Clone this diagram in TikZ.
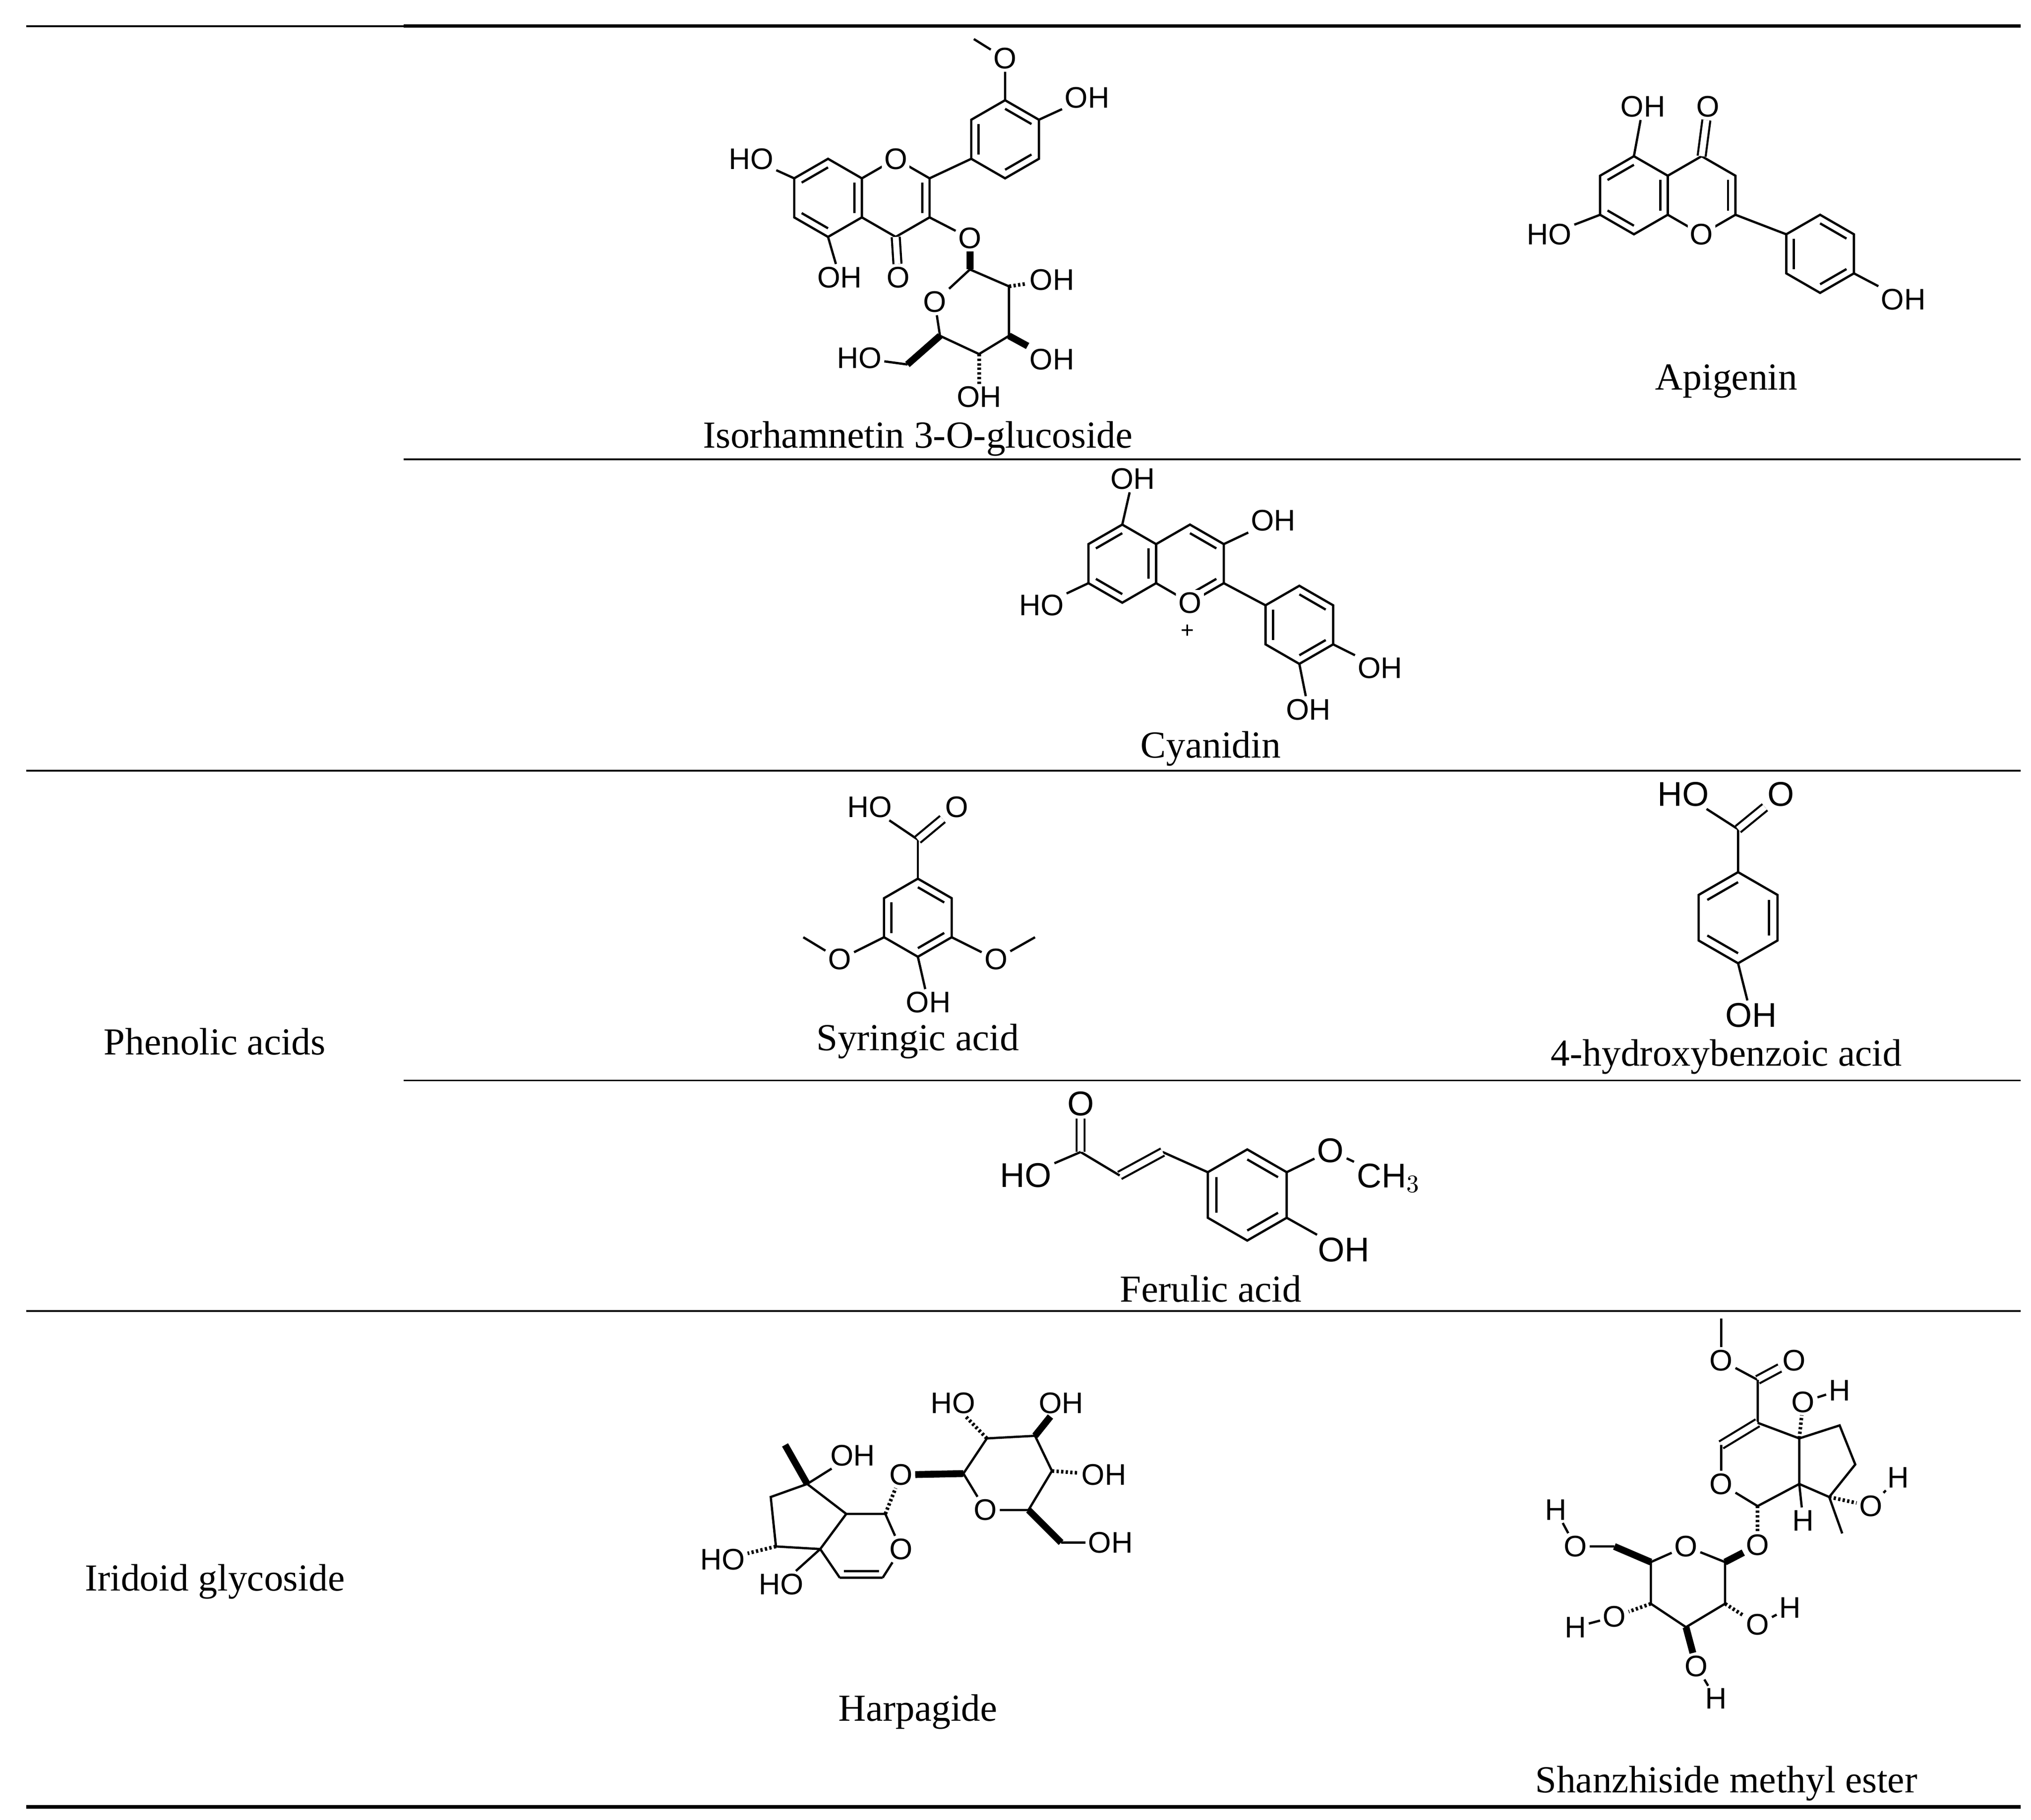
\documentclass[tikz,border=0pt]{standalone}
\usepackage{fontspec}
\setmainfont{Liberation Serif}
\newfontfamily\atomfont{Liberation Sans}
\usetikzlibrary{calc}
\newcommand\hexring[4][30]{%
 \coordinate (#2c) at (#3,#4);
 \foreach \i/\a in {1/-90,2/-30,3/30,4/90,5/150,6/210} {\coordinate (#2\i) at ($(#3,#4)+(\a:#1)$);}
 \draw[bond] (#21)--(#22)--(#23)--(#24)--(#25)--(#26)--cycle;}
\newcommand\inb[3]{\draw[bond] ($(#1)!0.22!(#3)$) -- ($(#2)!0.22!(#3)$);}
\begin{document}
\begin{tikzpicture}[x=0.02cm,y=-0.02cm,
 bond/.style={line width=1pt},
 dbond/.style={double,double distance=2.6pt,line width=0.9pt},
 atom/.style={font=\atomfont\fontsize{13}{13}\selectfont,inner sep=1pt},
 ratom/.style={atom,fill=white},
 cname/.style={font=\fontsize{16.7}{16.7}\selectfont,inner sep=0pt},
 rule/.style={line width=0.8pt}, thick rule/.style={line width=1.6pt}]
\useasboundingbox (0,0) rectangle (1560,1398);
% table rules
\draw[rule] (20,20)--(310,20); \draw[thick rule] (310,20)--(1552,20);
\draw[rule] (310,353)--(1552,353);
\draw[rule] (20,592)--(1552,592);
\draw[rule] (310,830)--(1552,830);
\draw[rule] (20,1007)--(1552,1007);
\draw[thick rule] (20,1388)--(1552,1388);
% category labels
\node[cname] (l1) at (165,800) {Phenolic acids};
\node[cname] (l2) at (165,1215) {Iridoid glycoside};
% names
\node[cname] (n1) at (705,337) {Isorhamnetin 3-O-glucoside};
\node[cname] (n2) at (1326,293) {Apigenin};
\node[cname] (n3) at (930,575) {Cyanidin};
\node[cname] (n4) at (705,800) {Syringic acid};
\node[cname] (n5) at (1326,812) {4-hydroxybenzoic acid};
\node[cname] (n6) at (930,990) {Ferulic acid};
\node[cname] (n7) at (705,1315) {Harpagide};
\node[cname] (n8) at (1326,1370) {Shanzhiside methyl ester};

% ---------- Isorhamnetin 3-O-glucoside ----------
\hexring{IA}{636}{152}\hexring{IC}{688}{152}\hexring{IB}{772}{107}
\inb{IA2}{IA3}{IAc}\inb{IA4}{IA5}{IAc}\inb{IA6}{IA1}{IAc}
\inb{IC2}{IC3}{ICc}
\inb{IB1}{IB2}{IBc}\inb{IB3}{IB4}{IBc}\inb{IB5}{IB6}{IBc}
\node[ratom] (iO1) at (IC1) {O};
\draw[bond] (IC2)--(IB5);
\node[atom] (iOMe) at (772,45) {O}; \coordinate (iMe) at (748,30);
\draw[bond] (IB1)--(iOMe) (iOMe)--(iMe);
\node[atom] (iOH4) at (835,75) {OH}; \draw[bond] (IB2)--(iOH4);
\node[atom] (iHO7) at (577,122) {HO}; \draw[bond] (IA6)--(iHO7);
\node[atom] (iOH5) at (645,213) {OH}; \draw[bond] (IA4)--(iOH5);
\node[atom] (iO4) at (690,213) {O}; \draw[dbond] (IC4)--(iO4);
\node[atom] (iO3) at (745,183) {O}; \draw[bond] (IC3)--(iO3);
\coordinate (g1) at (745,207); \coordinate (g2) at (775,220); \coordinate (g3) at (775,258);
\coordinate (g4) at (752,272); \coordinate (g5) at (722,258);
\node[atom] (gO) at (718,232) {O};
\draw[bond] (gO)--(g1); \draw[line width=3pt] (g1)--(iO3);
\draw[bond] (g1)--(g2)--(g3)--(g4)--(g5)--(gO);
\node[atom] (gOH2) at (808,215) {OH}; \draw[bond,densely dotted,line width=1.6pt] (g2)--(gOH2);
\node[atom] (gOH3) at (808,276) {OH}; \draw[line width=3pt] (g3)--(gOH3);
\node[atom] (gOH4) at (752,305) {OH}; \draw[bond,densely dotted,line width=1.6pt] (g4)--(gOH4);
\coordinate (g6) at (697,280); \draw[line width=3pt] (g5)--(g6);
\node[atom] (gOH6) at (660,275) {HO}; \draw[bond] (g6)--(gOH6);

% ---------- Apigenin ----------
\hexring{AA}{1255}{150}\hexring{AC}{1307}{150}\hexring{AB}{1398}{195}
\inb{AA2}{AA3}{AAc}\inb{AA4}{AA5}{AAc}\inb{AA6}{AA1}{AAc}
\inb{AC2}{AC3}{ACc}
\inb{AB1}{AB2}{ABc}\inb{AB3}{AB4}{ABc}\inb{AB5}{AB6}{ABc}
\node[ratom] (aO1) at (AC4) {O};
\node[atom] (aO4) at (1312,82) {O}; \draw[dbond] (AC1)--(aO4);
\node[atom] (aOH5) at (1262,82) {OH}; \draw[bond] (AA1)--(aOH5);
\node[atom] (aHO7) at (1190,180) {HO}; \draw[bond] (AA5)--(aHO7);
\draw[bond] (AC3)--(AB6);
\node[atom] (aOH4) at (1462,230) {OH}; \draw[bond] (AB3)--(aOH4);

% ---------- Cyanidin ----------
\hexring{CA}{862}{433}\hexring{CC}{914}{433}\hexring{CB}{998}{480}
\inb{CA2}{CA3}{CAc}\inb{CA4}{CA5}{CAc}\inb{CA6}{CA1}{CAc}
\inb{CC1}{CC2}{CCc}\inb{CC3}{CC4}{CCc}
\inb{CB1}{CB2}{CBc}\inb{CB3}{CB4}{CBc}\inb{CB5}{CB6}{CBc}
\node[ratom] (cO1) at (CC4) {O};
\node[atom,font=\atomfont\fontsize{10}{10}\selectfont,inner sep=0pt] (cplus) at (912,485) {+};
\node[atom] (cOH5) at (870,368) {OH}; \draw[bond] (CA1)--(cOH5);
\node[atom] (cHO7) at (800,465) {HO}; \draw[bond] (CA5)--(cHO7);
\node[atom] (cOH3) at (978,400) {OH}; \draw[bond] (CC2)--(cOH3);
\draw[bond] (CC3)--(CB6);
\node[atom] (cOH4) at (1060,513) {OH}; \draw[bond] (CB3)--(cOH4);
\node[atom] (cOH3b) at (1005,545) {OH}; \draw[bond] (CB4)--(cOH3b);

% ---------- Syringic acid ----------
\hexring{S}{705}{705}
\inb{S1}{S2}{Sc}\inb{S3}{S4}{Sc}\inb{S5}{S6}{Sc}
\coordinate (sC) at (705,645); \draw[bond] (S1)--(sC);
\node[atom] (sHO) at (668,620) {HO}; \draw[bond] (sC)--(sHO);
\node[atom] (sO) at (735,620) {O}; \draw[dbond] (sC)--(sO);
\node[atom] (sO3) at (645,737) {O}; \draw[bond] (S5)--(sO3)--(617,720);
\node[atom] (sO5) at (765,737) {O}; \draw[bond] (S3)--(sO5)--(795,720);
\node[atom] (sOH) at (713,770) {OH}; \draw[bond] (S4)--(sOH);

% ---------- 4-hydroxybenzoic acid ----------
\hexring[35]{H}{1335}{705}
\inb{H2}{H3}{Hc}\inb{H4}{H5}{Hc}\inb{H6}{H1}{Hc}
\coordinate (hC) at (1335,637); \draw[bond] (H1)--(hC);
\node[atom,font=\atomfont\fontsize{15}{15}\selectfont] (hHO) at (1293,610) {HO}; \draw[bond] (hC)--(hHO);
\node[atom,font=\atomfont\fontsize{15}{15}\selectfont] (hO) at (1368,610) {O}; \draw[dbond] (hC)--(hO);
\node[atom,font=\atomfont\fontsize{15}{15}\selectfont] (hOH) at (1345,780) {OH}; \draw[bond] (H4)--(hOH);

% ---------- Ferulic acid ----------
\hexring[35]{F}{958}{918}
\inb{F1}{F2}{Fc}\inb{F3}{F4}{Fc}\inb{F5}{F6}{Fc}
\coordinate (fa) at (893,885); \coordinate (fb) at (860,903); \coordinate (fc) at (830,885);
\draw[bond] (F6)--(fa); \draw[dbond] (fa)--(fb); \draw[bond] (fb)--(fc);
\node[atom,font=\atomfont\fontsize{15}{15}\selectfont] (fO) at (830,848) {O}; \draw[dbond] (fc)--(fO);
\node[atom,font=\atomfont\fontsize{15}{15}\selectfont] (fHO) at (788,903) {HO}; \draw[bond] (fc)--(fHO);
\node[atom,font=\atomfont\fontsize{15}{15}\selectfont] (fO3) at (1022,884) {O}; \draw[bond] (F2)--(fO3);
\node[atom,font=\atomfont\fontsize{15}{15}\selectfont,anchor=west] (fMe) at (1040,905) {CH$_3$}; \draw[bond] (fO3)--(fMe);
\node[atom,font=\atomfont\fontsize{15}{15}\selectfont] (fOH) at (1032,960) {OH}; \draw[bond] (F3)--(fOH);

% ---------- Harpagide ----------
\coordinate (h1) at (680,1163); \coordinate (h3) at (678,1212); \coordinate (h4) at (645,1212);
\coordinate (h5) at (630,1190); \coordinate (h9) at (650,1163); \coordinate (h8) at (620,1140);
\coordinate (h7) at (592,1150); \coordinate (h6) at (596,1188); \coordinate (hMe) at (603,1110);
\node[atom] (hpO) at (692,1190) {O};
\draw[bond] (h1)--(hpO)--(h3); \draw[bond] (h3)--(h4); \draw[bond] ($(h3)+(-3,-5)$)--($(h4)+(3,-5)$);
\draw[bond] (h4)--(h5)--(h9)--(h1); \draw[bond] (h9)--(h8)--(h7)--(h6)--(h5);
\draw[line width=3pt] (h8)--(hMe);
\node[atom] (hOH8) at (655,1118) {OH}; \draw[bond] (h8)--(hOH8);
\node[atom] (hHO6) at (555,1198) {HO}; \draw[bond,densely dotted,line width=1.6pt] (h6)--(hHO6);
\node[atom] (hHO5) at (600,1217) {HO}; \draw[bond] (h5)--(hHO5);
\node[atom] (hO1) at (692,1133) {O}; \draw[bond,densely dotted,line width=1.6pt] (h1)--(hO1);
\coordinate (k1) at (740,1132); \coordinate (k2) at (758,1105); \coordinate (k3) at (795,1103);
\coordinate (k4) at (808,1130); \coordinate (k5) at (790,1160); \coordinate (k6) at (815,1185);
\node[atom] (kO) at (757,1160) {O};
\draw[line width=3pt] (hO1)--(k1);
\draw[bond] (k1)--(k2)--(k3)--(k4)--(k5)--(kO)--(k1);
\node[atom] (kOH2) at (732,1078) {HO}; \draw[bond,densely dotted,line width=1.6pt] (k2)--(kOH2);
\node[atom] (kOH3) at (815,1078) {OH}; \draw[line width=3pt] (k3)--(kOH3);
\node[atom] (kOH4) at (848,1133) {OH}; \draw[bond,densely dotted,line width=1.6pt] (k4)--(kOH4);
\draw[line width=3pt] (k5)--(k6);
\node[atom] (kOH6) at (853,1185) {OH}; \draw[bond] (k6)--(kOH6);

% ---------- Shanzhiside methyl ester ----------
\coordinate (zMe) at (1322,1013);
\node[atom] (zOm) at (1322,1045) {O}; \draw[bond] (zMe)--(zOm);
\coordinate (zC) at (1350,1060); \draw[bond] (zOm)--(zC);
\node[atom] (zO) at (1378,1045) {O}; \draw[dbond] (zC)--(zO);
\coordinate (z4) at (1350,1093); \coordinate (z3) at (1322,1110); \coordinate (z1) at (1350,1157);
\coordinate (z9) at (1382,1140); \coordinate (z5) at (1382,1105); \coordinate (z6) at (1413,1095);
\coordinate (z7) at (1425,1125); \coordinate (z8) at (1405,1150); \coordinate (zMe8) at (1415,1178);
\node[atom] (zO2) at (1322,1140) {O};
\draw[bond] (zC)--(z4); \draw[dbond] (z4)--(z3); \draw[bond] (z3)--(zO2)--(z1)--(z9)--(z5)--(z4);
\draw[bond] (z5)--(z6)--(z7)--(z8)--(z9); \draw[bond] (z8)--(zMe8);
\node[atom] (zO5) at (1385,1077) {O}; \node[atom] (zH5) at (1413,1068) {H};
\draw[bond,densely dotted,line width=1.6pt] (z5)--(zO5); \draw[bond] (zO5)--(zH5);
\node[atom] (zO8) at (1437,1157) {O}; \node[atom] (zH8) at (1458,1135) {H};
\draw[bond,densely dotted,line width=1.6pt] (z8)--(zO8); \draw[bond] (zO8)--(zH8);
\node[atom] (zH9) at (1385,1168) {H}; \draw[bond] (z9)--(zH9);
\node[atom] (zO1) at (1350,1187) {O}; \draw[bond,densely dotted,line width=1.6pt] (z1)--(zO1);
\coordinate (y1) at (1325,1200); \coordinate (y5) at (1268,1200); \coordinate (y4) at (1268,1232);
\coordinate (y3) at (1295,1250); \coordinate (y2) at (1325,1232); \coordinate (y6) at (1240,1188);
\node[atom] (yO) at (1295,1188) {O};
\draw[line width=3pt] (zO1)--(y1);
\draw[bond] (y1)--(yO)--(y5)--(y4)--(y3)--(y2)--(y1);
\draw[line width=3pt] (y5)--(y6);
\node[atom] (yO6) at (1210,1188) {O}; \node[atom] (yH6) at (1195,1160) {H};
\draw[bond] (y6)--(yO6)--(yH6);
\node[atom] (yO4) at (1240,1242) {O}; \node[atom] (yH4) at (1210,1250) {H};
\draw[bond,densely dotted,line width=1.6pt] (y4)--(yO4); \draw[bond] (yO4)--(yH4);
\node[atom] (yO3) at (1303,1280) {O}; \node[atom] (yH3) at (1318,1305) {H};
\draw[line width=3pt] (y3)--(yO3); \draw[bond] (yO3)--(yH3);
\node[atom] (yO2) at (1350,1248) {O}; \node[atom] (yH2) at (1375,1235) {H};
\draw[bond,densely dotted,line width=1.6pt] (y2)--(yO2); \draw[bond] (yO2)--(yH2);
\end{tikzpicture}
\end{document}
